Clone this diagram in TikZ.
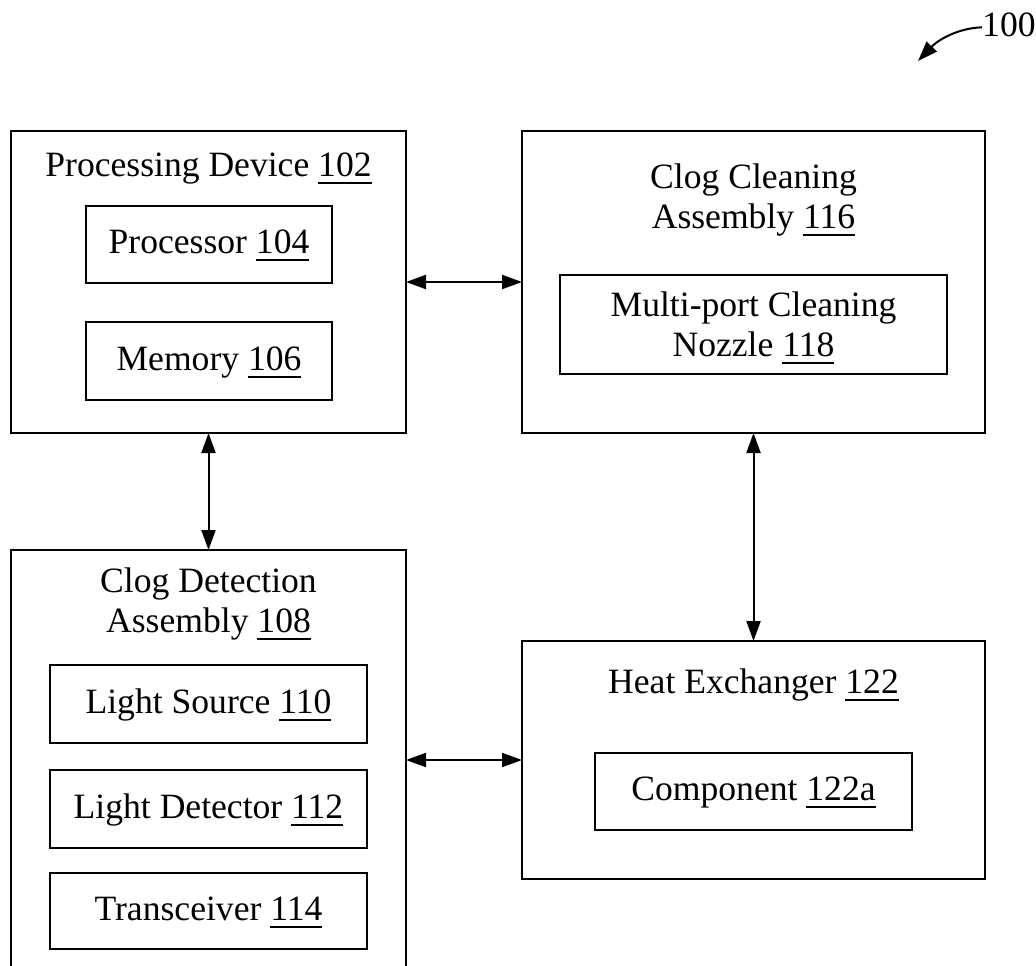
\documentclass[tikz,border=0pt]{standalone}
\usepackage{fontspec}
\setmainfont{Liberation Serif}
\usetikzlibrary{arrows.meta}
\newcommand{\uln}[1]{\setbox0\hbox{#1}\rlap{\rule[-8pt]{\wd0}{1.8pt}}\box0}
\newcommand{\twoline}[2]{\begin{tabular}[t]{@{}c@{}}#1\\#2\end{tabular}}
\begin{document}
\begin{tikzpicture}[x=1pt,y=-1pt,
  box/.style={draw,line width=2pt,inner sep=0pt,outer sep=0pt},
  lbl/.style={font=\fontsize{35.6}{40}\selectfont,anchor=base,inner sep=0pt},
  dbl/.style={line width=2pt,{Triangle[length=20pt,width=14pt]}-{Triangle[length=20pt,width=14pt]}},
]
\useasboundingbox (0,0) rectangle (1036,966);
\clip (0,0) rectangle (1036,966);

% outer boxes
\node[box,minimum width=395pt,minimum height=302pt] (pd) at (208.5,282) {};
\node[box,minimum width=463pt,minimum height=302pt] (cc) at (753.5,282) {};
\node[box,minimum width=395pt,minimum height=450pt] (cd) at (208.5,775) {};
\node[box,minimum width=463pt,minimum height=238pt] (hx) at (753.5,760) {};

% inner boxes
\node[box,minimum width=246pt,minimum height=77pt] (proc) at (209,244.5) {};
\node[box,minimum width=246pt,minimum height=78pt] (mem) at (209,361) {};
\node[box,minimum width=387pt,minimum height=99pt] (noz) at (753.5,324.5) {};
\node[box,minimum width=317pt,minimum height=77pt] (comp) at (753.5,791.5) {};
\node[box,minimum width=317pt,minimum height=78pt] (ls) at (208.5,704) {};
\node[box,minimum width=317pt,minimum height=78pt] (ld) at (208.5,809) {};
\node[box,minimum width=317pt,minimum height=76pt] (tr) at (208.5,911) {};

% labels
\node[lbl] (tpd) at (208.5,176) {Processing Device \uln{102}};
\node[lbl] (tproc) at (209,253) {Processor \uln{104}};
\node[lbl] (tmem) at (209,370) {Memory \uln{106}};
\node[lbl] (tcc) at (753.5,188) {\twoline{Clog Cleaning}{Assembly \uln{116}}};
\node[lbl] (tnoz) at (753.5,316) {\twoline{Multi-port Cleaning}{Nozzle \uln{118}}};
\node[lbl] (tcd) at (208.5,592) {\twoline{Clog Detection}{Assembly \uln{108}}};
\node[lbl] (tls) at (208.5,713) {Light Source \uln{110}};
\node[lbl] (tld) at (208.5,818) {Light Detector \uln{112}};
\node[lbl] (ttr) at (208.5,920) {Transceiver \uln{114}};
\node[lbl] (thx) at (753.5,693) {Heat Exchanger \uln{122}};
\node[lbl] (tcomp) at (753.5,800) {Component \uln{122a}};
\node[lbl,anchor=base west] (ref) at (982,37) {100};

% connectors
\draw[dbl] (pd.east) -- (cc.west);
\draw[dbl] (pd.south) -- (cd.north);
\draw[dbl] (cc.south) -- (hx.north);
\draw[dbl] (cd.east |- hx.west) -- (hx.west);

\coordinate (reftip) at (918,61);
\draw[line width=2pt,-{Triangle[length=20pt,width=14pt]}] ([yshift=-2pt]ref.west) .. controls (958,28) and (938,40) .. (reftip);
\end{tikzpicture}
\end{document}
